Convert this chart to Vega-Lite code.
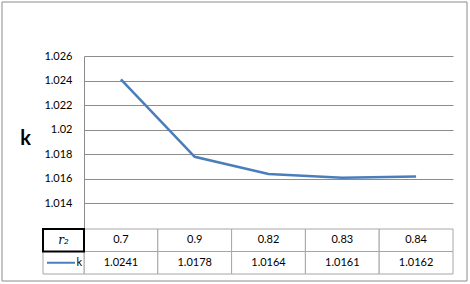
{
  "$schema": "https://vega.github.io/schema/vega-lite/v6.json",
  "autosize": "none",
  "width": 369,
  "height": 172,
  "padding": {"left": 84, "top": 56, "right": 17, "bottom": 56},
  "background": "white",
  "config": {"view": {"stroke": null}, "font": "Lato"},
  "data": {"values": [
    {"r2": "0.7", "k": 1.0241},
    {"r2": "0.9", "k": 1.0178},
    {"r2": "0.82", "k": 1.0164},
    {"r2": "0.83", "k": 1.0161},
    {"r2": "0.84", "k": 1.0162}
  ]},
  "layer": [
    {
      "data": {"values": [{}]},
      "mark": {"type": "rect", "fill": null, "stroke": "#8c8c8c", "strokeWidth": 1},
      "encoding": {"x": {"value": -82}, "x2": {"value": 383}, "y": {"value": -54}, "y2": {"value": 225}}
    },
    {
      "transform": [{"fold": ["r2", "k"], "as": ["row", "val"]}],
      "mark": {"type": "rect", "fill": "white", "stroke": "#a6a6a6", "strokeWidth": 1},
      "encoding": {
        "x": {"field": "r2", "type": "nominal", "sort": null, "scale": {"paddingInner": 0, "paddingOuter": 0}, "axis": null},
        "y": {"field": "row", "type": "nominal", "scale": {"domain": ["r2", "k"], "range": [173, 218], "paddingInner": 0, "paddingOuter": 0}, "axis": null}
      }
    },
    {
      "transform": [{"fold": ["r2", "k"], "as": ["row", "val"]}],
      "mark": {"type": "text", "fontSize": 11, "color": "#000", "baseline": "middle"},
      "encoding": {
        "x": {"field": "r2", "type": "nominal", "sort": null, "axis": null},
        "y": {"field": "row", "type": "nominal", "scale": {"domain": ["r2", "k"], "range": [173, 218], "paddingInner": 0, "paddingOuter": 0}, "axis": null},
        "text": {"field": "val", "type": "nominal"}
      }
    },
    {
      "data": {"values": [{"row": "r2"}, {"row": "k"}]},
      "mark": {"type": "rect", "fill": "white", "stroke": "#a6a6a6", "strokeWidth": 1},
      "encoding": {
        "x": {"value": -41}, "x2": {"value": 0},
        "y": {"field": "row", "type": "nominal", "scale": {"domain": ["r2", "k"], "range": [173, 218], "paddingInner": 0, "paddingOuter": 0}, "axis": null}
      }
    },
    {
      "data": {"values": [{"row": "r2"}]},
      "mark": {"type": "rect", "fill": null, "stroke": "#000", "strokeWidth": 2},
      "encoding": {
        "x": {"value": -41}, "x2": {"value": 0},
        "y": {"field": "row", "type": "nominal", "scale": {"domain": ["r2", "k"], "range": [173, 218], "paddingInner": 0, "paddingOuter": 0}, "axis": null}
      }
    },
    {
      "data": {"values": [{"row": "r2", "label": "r₂"}]},
      "mark": {"type": "text", "font": "DejaVu Serif", "fontStyle": "italic", "fontSize": 12, "color": "#000", "baseline": "middle"},
      "encoding": {
        "x": {"value": -20.5},
        "y": {"field": "row", "type": "nominal", "scale": {"domain": ["r2", "k"], "range": [173, 218], "paddingInner": 0, "paddingOuter": 0}, "axis": null},
        "text": {"field": "label", "type": "nominal"}
      }
    },
    {
      "data": {"values": [{"row": "k"}]},
      "mark": {"type": "rule", "color": "#4a7ebb", "strokeWidth": 2},
      "encoding": {
        "x": {"value": -37}, "x2": {"value": -9},
        "y": {"field": "row", "type": "nominal", "scale": {"domain": ["r2", "k"], "range": [173, 218], "paddingInner": 0, "paddingOuter": 0}, "axis": null}
      }
    },
    {
      "data": {"values": [{"row": "k", "label": "k"}]},
      "mark": {"type": "text", "fontSize": 11, "color": "#000", "align": "right", "baseline": "middle"},
      "encoding": {
        "x": {"value": -2},
        "y": {"field": "row", "type": "nominal", "scale": {"domain": ["r2", "k"], "range": [173, 218], "paddingInner": 0, "paddingOuter": 0}, "axis": null},
        "text": {"field": "label", "type": "nominal"}
      }
    },
    {
      "mark": {"type": "line", "color": "#4a7ebb", "strokeWidth": 2.5},
      "encoding": {
        "x": {"field": "r2", "type": "nominal", "sort": null, "axis": null},
        "y": {
          "field": "k", "type": "quantitative",
          "scale": {"domain": [1.012, 1.026], "zero": false},
          "axis": {
            "values": [1.014, 1.016, 1.018, 1.02, 1.022, 1.024, 1.026],
            "format": "~g",
            "grid": true, "gridColor": "#8c8c8c", "gridOpacity": 1,
            "domainColor": "#8c8c8c",
            "ticks": false,
            "labelPadding": 12, "labelFontSize": 11, "labelColor": "#000",
            "title": "k", "titleAngle": 0, "titleFontSize": 20, "titleFontWeight": "bold", "titleColor": "#000",
            "titleX": -59, "titleY": 82, "titleAlign": "center", "titleBaseline": "middle"
          }
        }
      }
    }
  ],
  "resolve": {"scale": {"y": "independent"}}
}
